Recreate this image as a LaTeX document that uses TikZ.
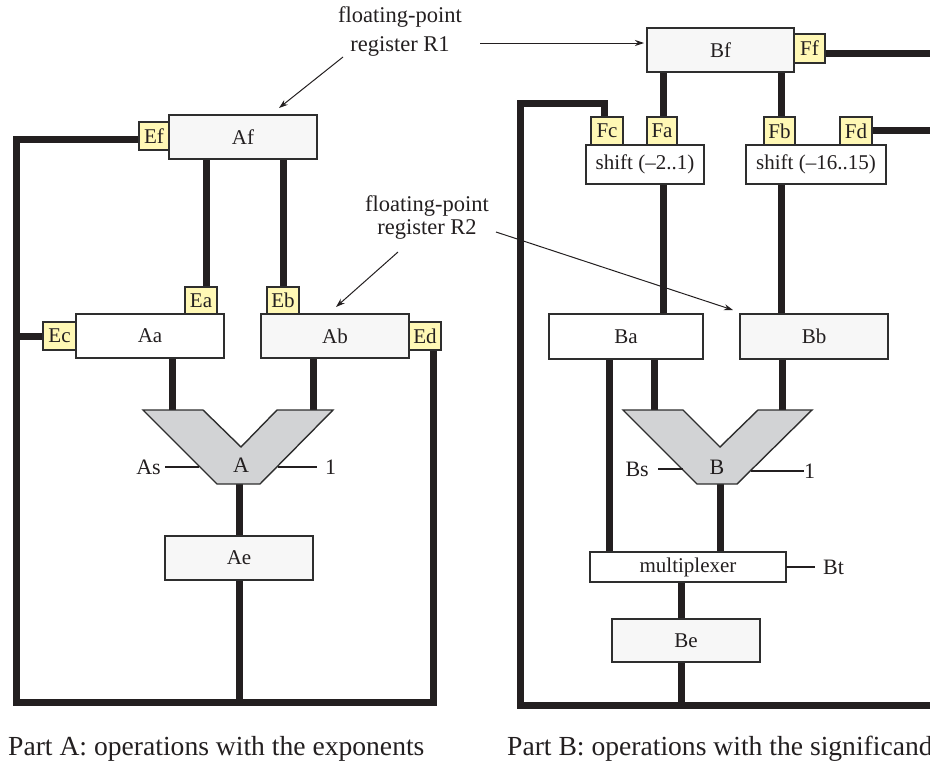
\documentclass[tikz,border=0pt]{standalone}
\usepackage{fontspec}
\setmainfont{Liberation Serif}
\usetikzlibrary{backgrounds,arrows.meta}
\definecolor{ink}{HTML}{231F20}
\definecolor{boxline}{HTML}{2E2E2E}
\definecolor{lightfill}{HTML}{F7F7F7}
\definecolor{tagfill}{HTML}{FFF8B5}
\definecolor{alufill}{HTML}{D2D3D5}
\newcommand\mkbox[7]{\node[#6, minimum width={#4-#2}, minimum height={#5-#3}] (#1) at ({(#2+#4)/2},{(#3+#5)/2}) {#7};}
\begin{document}
\begin{tikzpicture}[x=1pt,y=-1pt,
  wire/.style={line width=7pt, draw=ink, line join=miter},
  reg/.style={draw=boxline, line width=1.4pt, fill=lightfill, inner sep=0pt, outer sep=0pt, font=\fontsize{21}{24}\selectfont, text=ink},
  regw/.style={reg, fill=white},
  tag/.style={reg, fill=tagfill},
  alu/.style={draw=boxline, line width=1.4pt, fill=alufill},
  lbl/.style={font=\fontsize{22}{26}\selectfont, text=ink, inner sep=0pt},
  pointer/.style={draw=ink, line width=1pt, -{Stealth[length=9pt,width=6pt]}},
  thinline/.style={draw=ink, line width=1.4pt},
  caption/.style={font=\fontsize{27.6}{32}\selectfont, text=ink, inner sep=0pt, anchor=base west}
]
\useasboundingbox (0,0) rectangle (930,763);
% ---- Part A boxes
\mkbox{Af}{169}{115}{317}{159}{reg}{Af}
\mkbox{Ef}{139}{122}{169}{150}{tag}{Ef}
\mkbox{Ea}{185}{287}{217}{314}{tag}{Ea}
\mkbox{Eb}{267}{287}{299}{314}{tag}{Eb}
\mkbox{Aa}{76}{314}{224}{358}{regw}{Aa}
\mkbox{Ec}{43}{322}{76}{350}{tag}{Ec}
\mkbox{Ab}{261}{314}{409}{358}{reg}{Ab}
\mkbox{Ed}{409}{322}{441}{350}{tag}{Ed}
\mkbox{Ae}{165}{536}{313}{580}{reg}{Ae}
% ---- Part B boxes
\mkbox{Bf}{647}{28}{794}{72}{reg}{Bf}
\mkbox{Ff}{794}{34}{825}{63}{tag}{Ff}
\mkbox{Fc}{591}{117}{623}{145}{tag}{Fc}
\mkbox{Fa}{647}{117}{677}{145}{tag}{Fa}
\mkbox{Fb}{764}{117}{795}{145}{tag}{Fb}
\mkbox{Fd}{840}{117}{872}{145}{tag}{Fd}
\mkbox{SA}{586}{145}{704}{184}{regw}{shift (–2..1)}
\mkbox{SB}{746}{145}{886}{184}{regw}{shift (–16..15)}
\mkbox{Ba}{549}{314}{703}{359}{regw}{Ba}
\mkbox{Bb}{740}{314}{888}{359}{reg}{Bb}
\mkbox{mux}{590}{552}{786}{582}{regw}{multiplexer}
\mkbox{Be}{612}{619}{760}{662}{reg}{Be}
% ---- ALU A
\coordinate (A1) at (143,410); \coordinate (A2) at (203,410);
\coordinate (A3) at (241,447); \coordinate (A4) at (277,410);
\coordinate (A5) at (333,410); \coordinate (A6) at (260,484);
\coordinate (A7) at (217,484);
\path[alu] (A1) -- (A2) -- (A3) -- (A4) -- (A5) -- (A6) -- (A7) -- cycle;
\node[lbl] (Alab) at (241,465) {A};
\node[lbl, anchor=east] (As) at (161,467) {As};
\coordinate (AsE) at (199,467);
\draw[thinline] ([xshift=4pt]As.east) -- (AsE);
\node[lbl, anchor=west] (Aone) at (325,467) {1};
\coordinate (AoneS) at (278,467);
\draw[thinline] (AoneS) -- ([xshift=-8pt]Aone.west);
% ---- ALU B
\coordinate (B1) at (623,410); \coordinate (B2) at (683,410);
\coordinate (B3) at (720,447); \coordinate (B4) at (758,410);
\coordinate (B5) at (812,410); \coordinate (B6) at (737,484);
\coordinate (B7) at (697,484);
\path[alu] (B1) -- (B2) -- (B3) -- (B4) -- (B5) -- (B6) -- (B7) -- cycle;
\node[lbl] (Blab) at (717,467) {B};
\node[lbl, anchor=east] (Bs) at (649,469) {Bs};
\coordinate (BsE) at (683,469);
\draw[thinline] ([xshift=9pt]Bs.east) -- (BsE);
\node[lbl, anchor=west] (Bone) at (804,471) {1};
\coordinate (BoneS) at (751,471);
\draw[thinline] (BoneS) -- (Bone.west);
\node[lbl, anchor=west] (Bt) at (823,567) {Bt};
\draw[thinline] (mux.east) -- ([xshift=-8pt]Bt.west);
% ---- annotations
\node[lbl, align=center, font=\fontsize{22.5}{29}\selectfont] (R1) at (400,32) {floating-point\\register R1};
\coordinate (r1a) at (480,43);
\draw[pointer, shorten >=3pt] (r1a) -- (Bf.west |- r1a);
\coordinate (r1b) at (343,57); \coordinate (r1bt) at (279,108);
\draw[pointer] (r1b) -- (r1bt);
\node[lbl, align=center, font=\fontsize{22.5}{23}\selectfont] (R2) at (427,218) {floating-point\\register R2};
\coordinate (r2a) at (398,252); \coordinate (r2at) at (336,307);
\draw[pointer] (r2a) -- (r2at);
\coordinate (r2b) at (496,232); \coordinate (r2bt) at (733,310);
\draw[pointer] (r2b) -- (r2bt);
% ---- captions
\node[caption] (capA) at (8,755) {Part A: operations with the exponents};
\node[caption] (capB) at (507,755) {Part B: operations with the significand};
% ---- wires
\begin{scope}[on background layer]
  \coordinate (aL1) at (16,139); \coordinate (aL2) at (16,702);
  \coordinate (aR) at (433,702); \coordinate (aM) at (240,702);
  \draw[wire] (Ef.west |- aL1) -- (aL1) -- (aL2) -- (aR) -- (Ed.south -| aR);
  \draw[wire] (Ec.west) -- (Ec.west -| aL1);
  \draw[wire] (Ae.south) -- (Ae.south |- aM);
  \coordinate (xa) at (206,0); \coordinate (xb) at (283,0);
  \coordinate (xc) at (172,0); \coordinate (xd) at (313,0);
  \draw[wire] (Af.south -| xa) -- (Ea.north -| xa);
  \draw[wire] (Af.south -| xb) -- (Eb.north -| xb);
  \draw[wire] (Aa.south -| xc) -- (A1 -| xc);
  \draw[wire] (Ab.south -| xd) -- (A5 -| xd);
  \draw[wire] (A7 -| Ae.north) -- (Ae.north);
  % part B
  \coordinate (bL1) at (520,103); \coordinate (bL2) at (520,705);
  \coordinate (bR) at (930,705); \coordinate (fcx) at (604,103);
  \draw[wire] (Fc.north -| fcx) -- (fcx) -- (bL1) -- (bL2) -- (bR);
  \coordinate (ffR) at (930,53); \coordinate (fdR) at (930,130);
  \draw[wire] (Ff.east |- ffR) -- (ffR);
  \draw[wire] (Fd.east |- fdR) -- (fdR);
  \coordinate (x1) at (663,0); \coordinate (x2) at (781,0);
  \coordinate (x3) at (609,0); \coordinate (x4) at (654,0);
  \coordinate (x5) at (782,0); \coordinate (x6) at (720,0);
  \coordinate (x7) at (681,0);
  \draw[wire] (Bf.south -| x1) -- (Fa.north -| x1);
  \draw[wire] (Bf.south -| x2) -- (Fb.north -| x2);
  \draw[wire] (SA.south -| x1) -- (Ba.north -| x1);
  \draw[wire] (SB.south -| x2) -- (Bb.north -| x2);
  \draw[wire] (Ba.south -| x3) -- (mux.north -| x3);
  \draw[wire] (Ba.south -| x4) -- (B1 -| x4);
  \draw[wire] (Bb.south -| x5) -- (B5 -| x5);
  \draw[wire] (B7 -| x6) -- (mux.north -| x6);
  \draw[wire] (mux.south -| x7) -- (Be.north -| x7);
  \draw[wire] (Be.south -| x7) -- (bL2 -| x7);
\end{scope}
\end{tikzpicture}
\end{document}
